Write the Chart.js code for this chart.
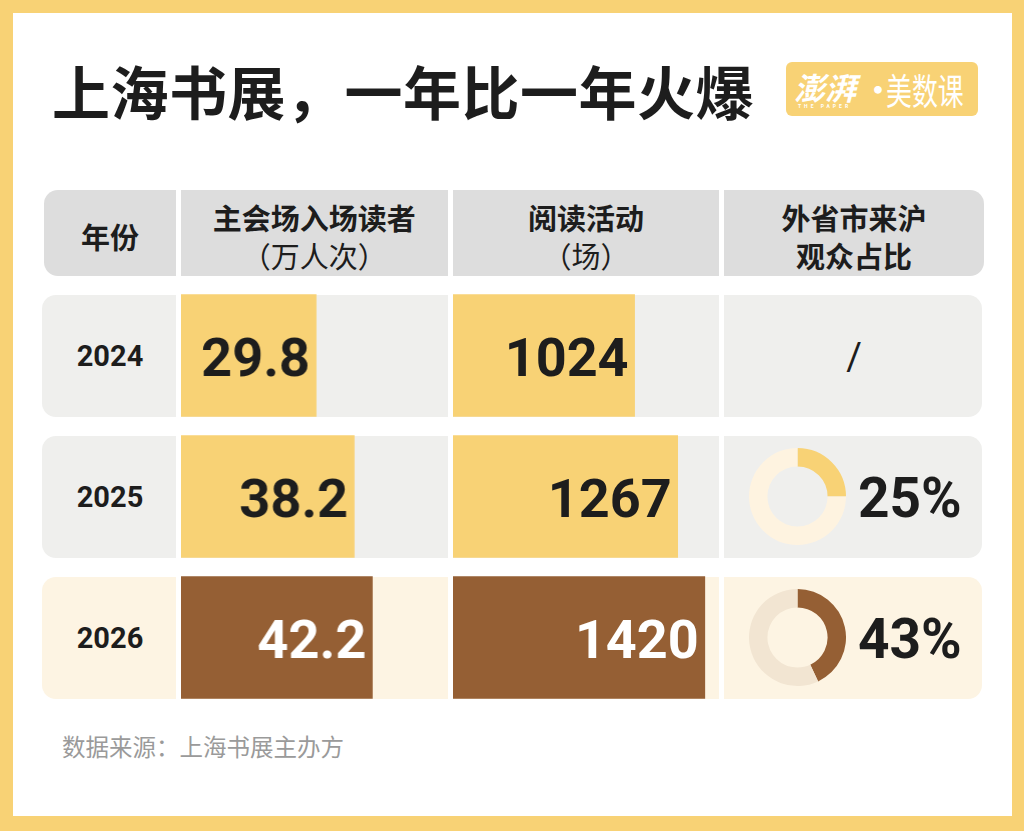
<!DOCTYPE html>
<html lang="zh">
<head>
  <meta charset="UTF-8">
  <title>上海书展，一年比一年火爆</title>
  <script src="https://cdn.jsdelivr.net/npm/chart.js"></script>
  <style>
    body { margin:0; width:1024px; height:831px; background:#f8d275; position:relative; overflow:hidden;
           font-family:"Noto Sans CJK SC", sans-serif; color:#1d1d1d; }
    .paper { position:absolute; left:13px; top:13px; width:999px; height:803px; background:#fff; }
    .abs { position:absolute; white-space:nowrap; }
    .title { left:52px; top:60px; font-size:58px; line-height:60px; font-weight:700; letter-spacing:0.5px; }
    .logo { left:786px; top:62px; width:192px; height:54px; background:#f8d275; border-radius:6px; color:#fff; overflow:hidden; }
    .head { top:190px; height:86px; background:#dddddd; display:flex; flex-direction:column; justify-content:center;
            align-items:center; text-align:center; font-size:29px; line-height:38px; }
    .head b { font-weight:700; }
    .cell { height:122px; }
    .num { font-family:Roboto, sans-serif; font-weight:700; }
    .footer { left:62px; top:730px; font-size:23.5px; color:#9a9a9a; line-height:32px; }
  </style>
</head>
<body>
  <div class="paper"></div>
  <div class="abs title">上海书展，一年比一年火爆</div>
  <div class="abs logo">
    <div class="abs" style="left:8px;top:7px;font-size:31px;line-height:36px;font-weight:700;font-style:italic;">澎湃</div>
    <div class="abs" style="left:12px;top:41px;font-size:5px;line-height:6px;letter-spacing:3px;font-family:Roboto;font-weight:700;">THE PAPER</div>
    <div class="abs" style="left:74px;top:6px;font-size:36px;line-height:40px;">·</div>
    <div class="abs" style="left:100px;top:7px;font-size:36px;line-height:40px;transform:scaleX(0.72);transform-origin:left center;">美数课</div>
  </div>

  <div id="table"></div>

  <div class="abs footer">数据来源：上海书展主办方</div>

  <script>
    // data
    const years = ['2024', '2025', '2026'];
    const visitors = [29.8, 38.2, 42.2];        // 主会场入场读者（万人次）
    const events = [1024, 1267, 1420];          // 阅读活动（场）
    const outsideShare = [null, 25, 43];        // 外省市来沪观众占比 %
    const headers = [['年份'], ['主会场入场读者', '（万人次）'], ['阅读活动', '（场）'], ['外省市来沪', '观众占比']];

    const barColors = ['#f8d275', '#f8d275', '#955f34'];
    const labelColors = ['#1d1d1d', '#1d1d1d', '#ffffff'];
    const rowBg = ['#efefed', '#efefed', '#fdf4e3'];
    const ringFill = ['', '#f8d275', '#955f34'];
    const ringRest = ['', '#fef3e0', '#f2e5d2'];

    // layout
    const cols = [[42, 176], [181, 447.5], [453, 719], [724, 982]];
    const rowTop = 294.5, rowPitch = 141, rowH = 122;
    const table = document.getElementById('table');
    let html = '';

    headers.forEach((h, c) => {
      const x0 = c === 0 ? 44 : cols[c][0], x1 = c === 3 ? 984 : cols[c][1];
      const radius = c === 0 ? '14px 0 0 14px' : c === 3 ? '0 14px 14px 0' : '0';
      let inner = '<b>' + h[0] + '</b>';
      if (h[1]) inner += c === 3 ? '<b>' + h[1] + '</b>' : '<span>' + h[1] + '</span>';
      html += `<div class="abs head" style="left:${x0}px;width:${x1 - x0}px;border-radius:${radius};padding-top:6px;height:80px;">${inner}</div>`;
    });

    years.forEach((y, r) => {
      const top = rowTop + r * rowPitch;
      cols.forEach((cx, c) => {
        const radius = c === 0 ? '14px 0 0 14px' : c === 3 ? '0 14px 14px 0' : '0';
        html += `<div class="abs cell" style="left:${cx[0]}px;top:${top}px;width:${cx[1] - cx[0]}px;background:${rowBg[r]};border-radius:${radius};"></div>`;
      });
      const mid = top + rowH / 2;
      html += `<div class="abs num" style="left:44px;width:132px;text-align:center;top:${mid - 13.5}px;font-size:29px;line-height:29px;">${y}</div>`;
      if (outsideShare[r] == null) {
        html += `<div class="abs num" style="left:724px;width:260px;text-align:center;top:${mid - 18}px;font-size:38px;line-height:38px;font-weight:400;">/</div>`;
      } else {
        html += `<div class="abs num" style="left:858px;top:${mid - 26}px;font-size:55px;line-height:54px;">${outsideShare[r]}%</div>`;
        html += `<div class="abs" style="left:749px;top:${mid - 48.5}px;width:97px;height:97px;"><canvas id="ring${r}"></canvas></div>`;
      }
    });

    // bar canvases span the three rows of one column
    html += `<div class="abs" style="left:181px;top:${rowTop + rowH / 2 - rowPitch / 2}px;width:266.5px;height:${rowPitch * 3}px;"><canvas id="chartVisitors"></canvas></div>`;
    html += `<div class="abs" style="left:453px;top:${rowTop + rowH / 2 - rowPitch / 2}px;width:266px;height:${rowPitch * 3}px;"><canvas id="chartEvents"></canvas></div>`;
    table.innerHTML = html;

    const barLabels = {
      id: 'barLabels',
      afterDatasetsDraw(chart, args, opts) {
        const ctx = chart.ctx;
        const values = chart.data.datasets[0].data;
        ctx.save();
        ctx.font = '700 54px Roboto';
        ctx.textAlign = 'right';
        ctx.textBaseline = 'alphabetic';
        chart.getDatasetMeta(0).data.forEach((bar, i) => {
          ctx.fillStyle = labelColors[i];
          ctx.fillText(values[i].toFixed(opts.decimals), bar.x - 6, bar.y + 20);
        });
        ctx.restore();
      }
    };

    function barChart(id, values, max, decimals) {
      new Chart(document.getElementById(id), {
        type: 'bar',
        data: { labels: years, datasets: [{ data: values, backgroundColor: barColors, borderWidth: 0, barThickness: rowH }] },
        options: {
          indexAxis: 'y', responsive: true, maintainAspectRatio: false, animation: false,
          layout: { padding: 0 },
          scales: { x: { min: 0, max: max, display: false }, y: { display: false } },
          plugins: { legend: { display: false }, tooltip: { enabled: false }, barLabels: { decimals: decimals } }
        },
        plugins: [barLabels]
      });
    }
    barChart('chartVisitors', visitors, 59, 1);
    barChart('chartEvents', events, 1500, 0);

    outsideShare.forEach((v, r) => {
      if (v == null) return;
      new Chart(document.getElementById('ring' + r), {
        type: 'doughnut',
        data: { labels: ['外省市', '其他'], datasets: [{ data: [v, 100 - v], backgroundColor: [ringFill[r], ringRest[r]], borderWidth: 0 }] },
        options: {
          responsive: true, maintainAspectRatio: false, animation: false, cutout: '62%',
          plugins: { legend: { display: false }, tooltip: { enabled: false } }
        }
      });
    });
  </script>
</body>
</html>
